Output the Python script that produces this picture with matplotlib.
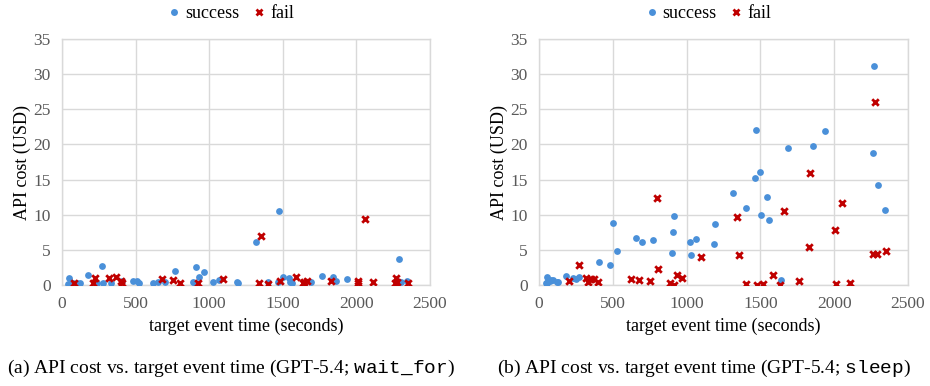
import matplotlib.pyplot as plt
from matplotlib.lines import Line2D

plt.rcParams['font.family'] = ['Liberation Serif', 'DejaVu Serif']
plt.rcParams['mathtext.fontset'] = 'custom'
plt.rcParams['mathtext.tt'] = 'Liberation Mono'
plt.rcParams['mathtext.rm'] = 'Liberation Serif'

# (a) wait_for
wf_success_t = [43, 50, 77, 100, 122, 179, 240, 270, 276, 331, 405, 485, 507, 525,
                620, 654, 700, 770, 888, 903, 910, 933, 967, 1028, 1066, 1186, 1198,
                1318, 1401, 1465, 1472, 1504, 1542, 1549, 1560, 1689, 1764, 1839,
                1859, 1939, 2273, 2291, 2301, 2341]
wf_success_cost = [0.14, 1.04, 0.24, 0.3, 0.24, 1.42, 0.24, 2.75, 0.24, 0.24, 0.6, 0.61,
                   0.57, 0.24, 0.24, 0.47, 0.47, 1.99, 0.47, 0.33, 2.6, 1.18, 1.8, 0.43,
                   0.71, 0.47, 0.33, 6.07, 0.47, 0.47, 10.57, 1.18, 0.95, 0.47, 0.3,
                   0.43, 1.28, 1.1, 0.61, 0.81, 0.55, 3.65, 0.47, 0.61]
wf_fail_t = [82, 208, 224, 322, 367, 401, 405, 677, 752, 802, 926, 1096, 1340, 1352,
             1401, 1481, 1587, 1635, 1646, 1662, 1830, 2008, 2013, 2056, 2110, 2262,
             2267, 2273, 2353]
wf_fail_cost = [0.24, 0.24, 1.04, 1.04, 1.09, 0.61, 0.24, 0.81, 0.71, 0.24, 0.24, 0.81,
                0.33, 6.97, 0.14, 0.6, 1.18, 0.24, 0.47, 0.57, 0.61, 0.57, 0.24, 9.43,
                0.47, 0.24, 0.95, 0.47, 0.24]

# (b) sleep
sl_success_t = [47, 52, 52, 63, 75, 81, 97, 120, 131, 181, 228, 248, 273, 404, 481, 504,
                526, 655, 700, 772, 903, 906, 912, 1025, 1028, 1064, 1183, 1192, 1317,
                1402, 1466, 1472, 1497, 1502, 1545, 1556, 1642, 1689, 1859, 1940, 2261,
                2270, 2297, 2344]
sl_success_cost = [0.3, 1.18, 0.33, 0.5, 0.57, 0.7, 0.71, 0.47, 0.47, 1.28, 0.95, 0.81,
                   1.18, 3.23, 2.85, 8.87, 4.79, 6.73, 6.16, 6.45, 4.5, 7.5, 9.8, 6.07,
                   4.3, 6.5, 5.83, 8.7, 13.1, 10.9, 15.2, 22.1, 16.1, 10.0, 12.5, 9.2,
                   0.71, 19.5, 19.8, 21.95, 18.8, 31.15, 14.2, 10.7]
sl_fail_t = [203, 271, 318, 330, 352, 374, 402, 621, 678, 752, 797, 806, 888, 917, 933,
             967, 1098, 1341, 1353, 1402, 1479, 1520, 1588, 1633, 1658, 1764, 1832, 1836,
             2005, 2010, 2055, 2109, 2261, 2274, 2292, 2351]
sl_fail_cost = [0.55, 2.85, 0.95, 0.4, 0.8, 0.8, 0.38, 0.85, 0.71, 0.61, 12.33, 2.28, 0.24,
                0.05, 1.42, 0.95, 3.98, 9.7, 4.27, 0.14, 0.05, 0.14, 1.38, 0.05, 10.6,
                0.57, 5.36, 16.0, 7.8, 0.14, 11.6, 0.24, 4.36, 26.1, 4.36, 4.84]

BLUE = '#4a90d9'
RED = '#c00000'
GRID = '#d9d9d9'

fig = plt.figure(figsize=(9.3, 3.86), dpi=100)
ax1 = fig.add_axes([0.0667, 0.2617, 0.3957, 0.637])
ax2 = fig.add_axes([0.5796, 0.2617, 0.3968, 0.637])

panels = [
    (ax1, wf_success_t, wf_success_cost, wf_fail_t, wf_fail_cost,
     r'(a) API cost vs. target event time (GPT-5.4; $\mathtt{wait\_for}$)', 0.248, 0.247),
    (ax2, sl_success_t, sl_success_cost, sl_fail_t, sl_fail_cost,
     r'(b) API cost vs. target event time (GPT-5.4; $\mathtt{sleep}$)', 0.757, 0.760),
]

for ax, st, sc, ft, fc, caption, cap_x, leg_x in panels:
    ax.scatter(st, sc, s=24, color=BLUE, marker='o', linewidths=0, zorder=3)
    ax.scatter(ft, fc, s=22, color=RED, marker='x', linewidths=2, zorder=4)
    ax.set_xlim(0, 2500)
    ax.set_ylim(0, 35)
    ax.set_xticks(range(0, 2501, 500))
    ax.set_yticks(range(0, 36, 5))
    ax.grid(True, color=GRID, linewidth=1)
    ax.set_axisbelow(True)
    for sp in ax.spines.values():
        sp.set_color(GRID)
        sp.set_linewidth(1)
    ax.tick_params(length=0, labelsize=12.5, colors='#595959', pad=8)
    ax.set_xlabel('target event time (seconds)', fontsize=13, labelpad=4)
    ax.set_ylabel('API cost (USD)', fontsize=13, labelpad=2)

    handles = [
        Line2D([], [], marker='o', linestyle='none', color=BLUE, markersize=5,
               markeredgewidth=0, label='success'),
        Line2D([], [], marker='x', linestyle='none', color=RED, markersize=5,
               markeredgewidth=2, label='fail'),
    ]
    fig.legend(handles=handles, loc='center', bbox_to_anchor=(leg_x, 0.965), ncol=2,
               frameon=False, fontsize=13, handletextpad=0.1, columnspacing=0.6,
               handlelength=1.0)
    fig.text(cap_x, 0.045, caption, ha='center', va='center', fontsize=14)

fig.savefig('out.png', dpi=100)
